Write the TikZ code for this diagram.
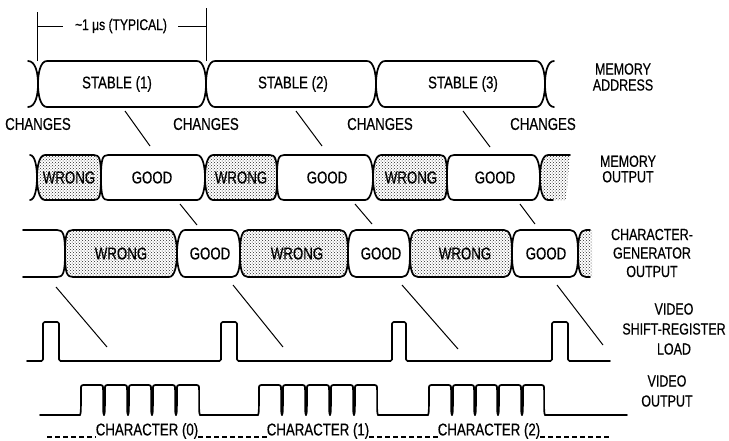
\documentclass[tikz,border=0pt]{standalone}
\usepackage{fontspec}
\setmainfont{Liberation Sans}[FakeStretch=0.78,FakeBold=0.5]
\usetikzlibrary{patterns}
% segment of a bus waveform: x0 x1 dl dr kl kr style
\newcommand\tseg[7]{%
 \path[#7] ({#1+#3},\yt) -- ({#2-#4},\yt)
  .. controls ({#2-0.25*#4},\yt) and (#2,{\ym-#6*\yh}) .. (#2,\ym)
  .. controls (#2,{\ym+#6*\yh}) and ({#2-0.25*#4},\yb) .. ({#2-#4},\yb)
  -- ({#1+#3},\yb)
  .. controls ({#1+0.25*#3},\yb) and (#1,{\ym+#5*\yh}) .. (#1,\ym)
  .. controls (#1,{\ym-#5*\yh}) and ({#1+0.25*#3},\yt) .. cycle;}
% one bit of the video output
\newcommand\vbump[2]{%
 \draw[wire] (#1,\vb) .. controls ({#1+0.8},{\vb-1.5}) and ({#1+0.9},{\vb-5}) .. ({#1+0.9},{\vb-9})
  -- ({#1+0.9},{\vt+5}) .. controls ({#1+0.9},\vt) .. ({#1+6},\vt)
  -- ({#2-6},\vt) .. controls ({#2-0.9},\vt) .. ({#2-0.9},{\vt+5})
  -- ({#2-0.9},{\vb-9}) .. controls ({#2-0.9},{\vb-5}) and ({#2-0.8},{\vb-1.5}) .. (#2,\vb);}
\begin{document}
\begin{tikzpicture}[x=1pt,y=-1pt,
  wire/.style={line width=1.7pt, line join=round, line cap=round},
  goodbox/.style={wire, draw, fill=white},
  wrongbox/.style={wire, draw, pattern=crosshatch dots, pattern color=black!85},
  txt/.style={font=\fontsize{17}{19}\selectfont, inner sep=0pt},
  rlbl/.style={align=center, inner sep=0pt},
  diag/.style={line width=1pt},
  dim/.style={line width=0.9pt},
]
\useasboundingbox (0,0) rectangle (729,440);

% ---------------- dimension ----------------
\coordinate (d1t) at (37,12);
\coordinate (d1b) at (37,61);
\coordinate (d2t) at (206,8);
\coordinate (d2b) at (206,61);
\draw[dim] (d1t) -- (d1b);
\draw[dim] (d2t) -- (d2b);
\node[font=\fontsize{15.5}{16}\selectfont, inner sep=0pt] (typ) at (121,26) {\textasciitilde 1 μs (TYPICAL)};
\coordinate (h1) at (37,26);
\coordinate (h2) at (206,26);
\draw[dim] (h1) -- (typ.west -| 63,0);
\draw[dim] (typ.east -| 178,0) -- (h2);

% ---------------- row 1: memory address ----------------
\def\yt{61}\def\yb{107}\def\ym{84}\def\yh{23}
\draw[wire] (28,61) .. controls (35.8,61) and (38,73.65) .. (38,84)
  .. controls (38,94.35) and (35.8,107) .. (28,107);
\tseg{38}{206}{9}{9}{0.45}{0.45}{goodbox}
\tseg{206}{376}{9}{9}{0.45}{0.45}{goodbox}
\tseg{376}{545}{9}{9}{0.45}{0.45}{goodbox}
\draw[wire] (554,61) .. controls (547.2,61) and (545,73.65) .. (545,84)
  .. controls (545,94.35) and (547.2,107) .. (554,107);
\node[txt] (s1) at (117,84) {STABLE (1)};
\node[txt] (s2) at (293,84) {STABLE (2)};
\node[txt] (s3) at (463,84) {STABLE (3)};
\node[txt] (c1) at (38,124) {CHANGES};
\node[txt] (c2) at (206,124) {CHANGES};
\node[txt] (c3) at (380,124) {CHANGES};
\node[txt] (c4) at (543,124) {CHANGES};
\node[rlbl, font=\fontsize{16}{16}\selectfont] (ma) at (623,77) {MEMORY\\ADDRESS};

% ---------------- row 2: memory output ----------------
\def\yt{155}\def\yb{200}\def\ym{177.5}\def\yh{22.5}
\draw[wire] (30,155) .. controls (35,155) and (37,167) .. (37,177.5)
  .. controls (37,188) and (35,200) .. (30,200);
\tseg{37}{101}{8}{7}{0.45}{0.85}{wrongbox}
\tseg{101}{205}{7}{8}{0.85}{0.45}{goodbox}
\tseg{205}{277}{8}{7}{0.45}{0.85}{wrongbox}
\tseg{277}{373}{7}{8}{0.85}{0.45}{goodbox}
\tseg{373}{447}{8}{7}{0.45}{0.85}{wrongbox}
\tseg{447}{540}{7}{8}{0.85}{0.45}{goodbox}
\fill[pattern=crosshatch dots, pattern color=black!85]
  (570,155) -- (548,155) .. controls (542,155) and (540,167) .. (540,177.5)
  .. controls (540,188) and (542,200) .. (548,200) -- (566,200) -- cycle;
\draw[wire] (570,155) -- (548,155) .. controls (542,155) and (540,167) .. (540,177.5)
  .. controls (540,188) and (542,200) .. (548,200) -- (553,200);
\node[txt] (w1) at (69,177.5) {WRONG};
\node[txt] (g1) at (152,177.5) {GOOD};
\node[txt] (w2) at (241,177.5) {WRONG};
\node[txt] (g2) at (327,177.5) {GOOD};
\node[txt] (w3) at (411,177.5) {WRONG};
\node[txt] (g3) at (495,177.5) {GOOD};
\node[rlbl, font=\fontsize{16}{15.5}\selectfont] (mo) at (628,169) {MEMORY\\OUTPUT};

% ---------------- row 3: character-generator output ----------------
\def\yt{230}\def\yb{277}\def\ym{253.5}\def\yh{23.5}
\draw[wire] (23,230) -- (57,230) .. controls (63,230) and (65,{253.5-0.85*23.5}) .. (65,253.5)
  .. controls (65,{253.5+0.85*23.5}) and (63,277) .. (57,277) -- (23,277);
\tseg{65}{177}{8}{8}{0.85}{0.45}{wrongbox}
\tseg{177}{240}{8}{8}{0.45}{0.7}{goodbox}
\tseg{240}{348}{8}{8}{0.7}{0.7}{wrongbox}
\tseg{348}{410}{8}{8}{0.7}{0.7}{goodbox}
\tseg{410}{512}{8}{8}{0.7}{0.7}{wrongbox}
\tseg{512}{578}{8}{8}{0.7}{0.7}{goodbox}
\fill[pattern=crosshatch dots, pattern color=black!85]
  (592,230) -- (586,230) .. controls (580,230) and (578,237) .. (578,253.5)
  .. controls (578,270) and (580,277) .. (586,277) -- (592,277) -- cycle;
\draw[wire] (590,230) -- (586,230) .. controls (580,230) and (578,237) .. (578,253.5)
  .. controls (578,270) and (580,277) .. (586,277) -- (590,277);
\node[txt] (cw1) at (121,253.5) {WRONG};
\node[txt] (cg1) at (210,253.5) {GOOD};
\node[txt] (cw2) at (297,253.5) {WRONG};
\node[txt] (cg2) at (381,253.5) {GOOD};
\node[txt] (cw3) at (465,253.5) {WRONG};
\node[txt] (cg3) at (546,253.5) {GOOD};
\node[rlbl, font=\fontsize{16}{18.5}\selectfont] (cgo) at (652,253) {CHARACTER-\\GENERATOR\\OUTPUT};

% ---------------- row 4: video shift-register load ----------------
\draw[wire, rounded corners=1.5pt] (27,361) -- (43,361) -- (43,322) -- (59,322) -- (59,361)
  -- (221,361) -- (221,322) -- (237,322) -- (237,361)
  -- (392,361) -- (392,322) -- (406,322) -- (406,361)
  -- (552,361) -- (552,322) -- (568,322) -- (568,361) -- (610,361);
\node[rlbl, font=\fontsize{16}{20}\selectfont] (vsr) at (674,329) {VIDEO\\SHIFT-REGISTER\\LOAD};

% ---------------- row 5: video output ----------------
\def\vb{415}\def\vt{385}
\draw[wire] (40,415) -- (80,415);
\vbump{80}{104}\vbump{104}{128}\vbump{128}{152}\vbump{152}{176}\vbump{176}{200}
\draw[wire] (200,415) -- (258,415);
\vbump{258}{282}\vbump{282}{306}\vbump{306}{330}\vbump{330}{354}\vbump{354}{378}
\draw[wire] (378,415) -- (428,415);
\vbump{428}{452}\vbump{452}{475}\vbump{475}{498}\vbump{498}{522}\vbump{522}{545}
\draw[wire] (545,415) -- (627,415);
\node[rlbl, font=\fontsize{16}{20}\selectfont] (vo) at (667,391) {VIDEO\\OUTPUT};

% ---------------- bottom: characters ----------------
\node[txt] (ch0) at (147,431) {CHARACTER (0)};
\node[txt] (ch1) at (318,431) {CHARACTER (1)};
\node[txt] (ch2) at (489,431) {CHARACTER (2)};
\begin{scope}[line width=1.3pt, dash pattern=on 4.5pt off 3.5pt]
\draw (47,437) -- (ch0.west |- 0,437);
\draw (ch0.east |- 0,437) -- (ch1.west |- 0,437);
\draw (ch1.east |- 0,437) -- (ch2.west |- 0,437);
\draw (ch2.east |- 0,437) -- (610,437);
\end{scope}

% ---------------- causal lines ----------------
\coordinate (a1) at (125,111); \coordinate (b1) at (150,146);
\coordinate (a2) at (296,111); \coordinate (b2) at (322,146);
\coordinate (a3) at (463,111); \coordinate (b3) at (490,147);
\coordinate (p1) at (180,204); \coordinate (q1) at (197,225);
\coordinate (p2) at (355,204); \coordinate (q2) at (372,224);
\coordinate (p3) at (520,204); \coordinate (q3) at (535,224);
\coordinate (r1) at (56,287);  \coordinate (t1) at (107,347);
\coordinate (r2) at (233,285); \coordinate (t2) at (283,347);
\coordinate (r3) at (402,285); \coordinate (t3) at (458,349);
\coordinate (r4) at (557,285); \coordinate (t4) at (603,345);
\foreach \u/\v in {a1/b1,a2/b2,a3/b3,p1/q1,p2/q2,p3/q3,r1/t1,r2/t2,r3/t3,r4/t4}
  \draw[diag] (\u) -- (\v);
\end{tikzpicture}
\end{document}
